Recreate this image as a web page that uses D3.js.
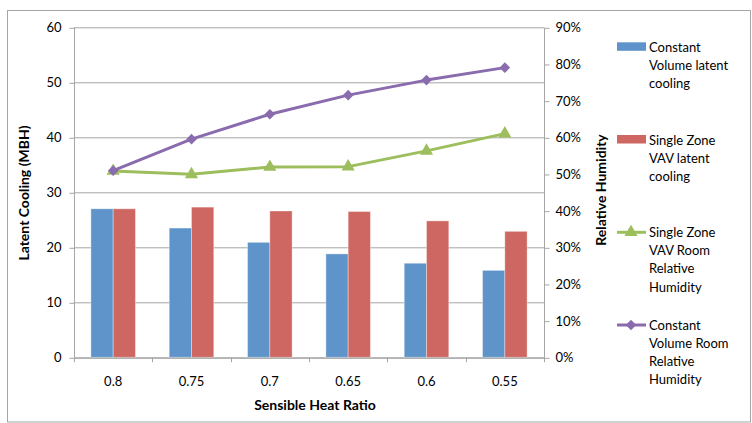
<!DOCTYPE html>
<html><head><meta charset="utf-8">
<script src="https://cdn.jsdelivr.net/npm/d3@7"></script>
<style>body{margin:0;background:#fff}svg{display:block}text{font-family:Lato,"Open Sans",sans-serif;fill:#000}</style>
</head><body><svg id="c" width="752" height="423"></svg>
<script>
const categories = ["0.8","0.75","0.7","0.65","0.6","0.55"];
const cvLatent = [27.0, 23.5, 20.9, 18.8, 17.1, 15.8];
const szLatent = [27.0, 27.3, 26.6, 26.5, 24.8, 22.9];
const szRH = [0.508, 0.499, 0.519, 0.52, 0.563, 0.61];
const cvRH = [0.509, 0.595, 0.663, 0.715, 0.756, 0.79];
const leftTicks = [0,10,20,30,40,50,60];
const rightTicks = [0,0.1,0.2,0.3,0.4,0.5,0.6,0.7,0.8,0.9];
const barSeries = [{name:["Constant","Volume latent","cooling"], values:cvLatent, color:"#5E94CA"},
                   {name:["Single Zone","VAV latent","cooling"], values:szLatent, color:"#CE6661"}];
const lineSeries = [{name:["Single Zone","VAV Room","Relative","Humidity"], values:szRH, color:"#9DBE5C", marker:"tri"},
                    {name:["Constant","Volume Room","Relative","Humidity"], values:cvRH, color:"#8A6BAE", marker:"dia"}];

const svg = d3.select("#c");
const L=74, R=544, T=27.3, B=357.3;
svg.append("rect").attr("x",7.5).attr("y",10.5).attr("width",743).attr("height",411.5).attr("fill","#fff").attr("stroke","#A6A6A6");

const x = d3.scaleBand().domain(categories).range([L,R]).paddingInner(0).paddingOuter(0);
const yL = d3.scaleLinear().domain([0,60]).range([B,T]);
const yR = d3.scaleLinear().domain([0,0.9]).range([B,T]);
const xs = d3.scaleBand().domain([0,1]).range([16.9, x.bandwidth()-16.9]).paddingInner(0).paddingOuter(0);

const markerPath = m => m==="tri" ? d3.symbol().type(d3.symbolTriangle).size(75)() : d3.symbol().type(d3.symbolSquare).size(56)();
const markerRot = m => m==="tri" ? "" : " rotate(45)";

// gridlines
svg.append("g").selectAll("line").data(leftTicks).join("line")
  .attr("x1",L).attr("x2",R).attr("y1",d=>yL(d)+0.5).attr("y2",d=>yL(d)+0.5).attr("stroke","#A6A6A6");

// bars
barSeries.forEach((s,i)=>{
  svg.append("g").selectAll("rect").data(s.values).join("rect")
    .attr("x",(d,j)=>x(categories[j])+xs(i)).attr("width",xs.bandwidth())
    .attr("y",d=>yL(d)).attr("height",d=>B-yL(d)).attr("fill",s.color)
    .attr("stroke","#fff").attr("stroke-opacity",0.35).attr("stroke-width",1);
});

// axes
const axL = d3.axisLeft(yL).tickValues(leftTicks).tickSize(5).tickPadding(8);
const gL = svg.append("g").attr("transform",`translate(${L+0.5},0.5)`).call(axL);
const axR = d3.axisRight(yR).tickValues(rightTicks).tickSize(5).tickPadding(6).tickFormat(d3.format(".0%"));
const gR = svg.append("g").attr("transform",`translate(${R+0.5},0.5)`).call(axR);
const axB = d3.axisBottom(x).tickSize(0).tickPadding(19);
const gB = svg.append("g").attr("transform",`translate(0,${B+0.5})`).call(axB);
[gL,gR,gB].forEach(g=>{g.selectAll("path.domain").attr("stroke","#A6A6A6");g.selectAll("line").attr("stroke","#A6A6A6");
  g.selectAll("text").attr("font-size",13).attr("font-family","Lato, sans-serif").attr("fill","#000");});
gL.selectAll("path.domain").attr("d",`M0,${T}V${B}`);
gR.selectAll("path.domain").attr("d",`M0,${T}V${B}`);
// bottom boundary ticks
svg.append("g").selectAll("line").data(d3.range(categories.length+1)).join("line")
  .attr("x1",d=>Math.round(L+d*x.bandwidth())+0.5).attr("x2",d=>Math.round(L+d*x.bandwidth())+0.5)
  .attr("y1",B).attr("y2",B+5).attr("stroke","#A6A6A6");

// lines
lineSeries.forEach(s=>{
  const line = d3.line().x((d,j)=>x(categories[j])+x.bandwidth()/2).y(d=>yR(d));
  svg.append("path").datum(s.values).attr("d",line).attr("fill","none").attr("stroke",s.color).attr("stroke-width",3).attr("stroke-linejoin","round");
  svg.append("g").selectAll("path").data(s.values).join("path")
    .attr("transform",(d,j)=>`translate(${x(categories[j])+x.bandwidth()/2},${yR(d)})${markerRot(s.marker)}`)
    .attr("d",markerPath(s.marker)).attr("fill",s.color);
});

// axis titles
svg.append("text").attr("transform","translate(29,193) rotate(-90)").attr("text-anchor","middle")
  .attr("font-size",14).attr("font-weight","bold").text("Latent Cooling (MBH)");
svg.append("text").attr("transform","translate(605.5,190) rotate(-90)").attr("text-anchor","middle")
  .attr("font-size",14).attr("font-weight","bold").text("Relative Humidity");
svg.append("text").attr("x",315).attr("y",410).attr("text-anchor","middle")
  .attr("font-size",14).attr("font-weight","bold").text("Sensible Heat Ratio");

// legend
const legY = [47.3, 140, 232.3, 325];
const all = [...barSeries.map(s=>({...s,type:"bar"})), ...lineSeries.map(s=>({...s,type:"line"}))];
all.forEach((s,i)=>{
  const g = svg.append("g").attr("transform",`translate(0,${legY[i]})`);
  if(s.type==="bar"){
    g.append("rect").attr("x",617).attr("y",-5).attr("width",29).attr("height",8.5).attr("fill",s.color);
  } else {
    g.append("line").attr("x1",617).attr("x2",646).attr("y1",0).attr("y2",0).attr("stroke",s.color).attr("stroke-width",3);
    g.append("path").attr("transform",`translate(631,0)${markerRot(s.marker)}`).attr("d",markerPath(s.marker)).attr("fill",s.color);
  }
  s.name.forEach((t,k)=>{
    g.append("text").attr("x",649).attr("y",k*18.3+4.5).attr("font-size",13).text(t);
  });
});
</script></body></html>
